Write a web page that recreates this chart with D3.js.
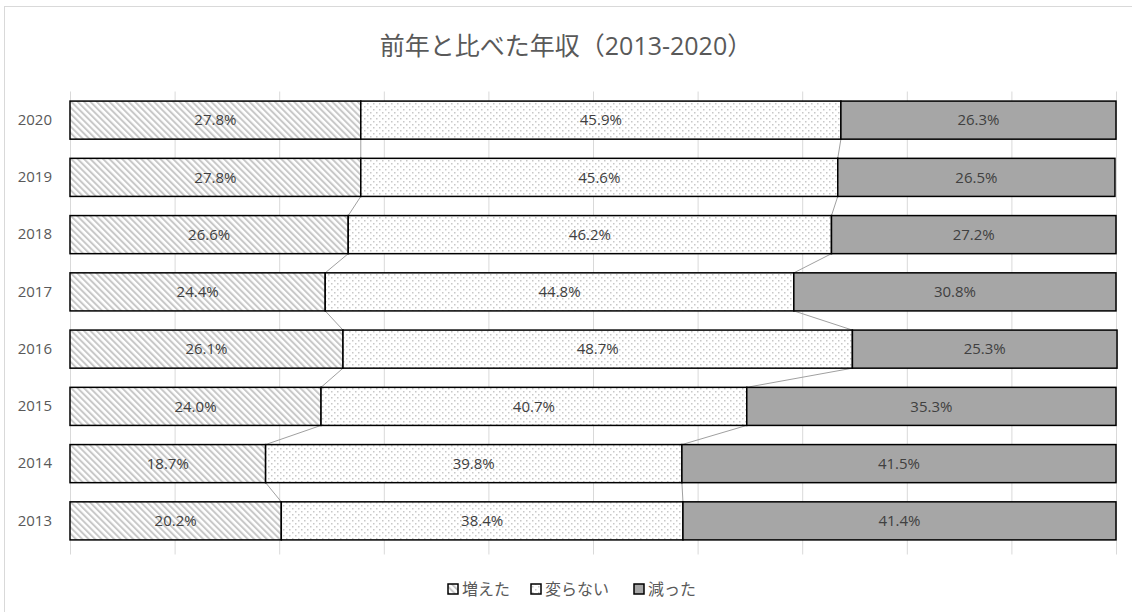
<!DOCTYPE html>
<html>
<head>
<meta charset="utf-8">
<script src="https://cdn.jsdelivr.net/npm/d3@7"></script>
<style>
  body { margin: 0; background: #fff; }
  text { font-family: "Open Sans", "Noto Sans CJK JP", sans-serif; }
</style>
</head>
<body>
<div id="chart"></div>
<script>
// data (percent)
const years = ["2013", "2014", "2015", "2016", "2017", "2018", "2019", "2020"];
const seriesNames = ["増えた", "変らない", "減った"];
const increased = [20.2, 18.7, 24.0, 26.1, 24.4, 26.6, 27.8, 27.8];
const unchanged = [38.4, 39.8, 40.7, 48.7, 44.8, 46.2, 45.6, 45.9];
const decreased = [41.4, 41.5, 35.3, 25.3, 30.8, 27.2, 26.5, 26.3];
const xTicks = [0, 10, 20, 30, 40, 50, 60, 70, 80, 90, 100];
const title = "前年と比べた年収（2013-2020）";

const width = 1132;
const height = 612;
const margin = { top: 91.5, right: 16, bottom: 62.5, left: 70 };

const svg = d3.select("#chart")
    .append("svg")
    .attr("width", width)
    .attr("height", height);

// patterns for the three series
const defs = svg.append("defs");
const hatch = defs.append("pattern")
    .attr("id", "hatch")
    .attr("patternUnits", "userSpaceOnUse")
    .attr("width", 4.5)
    .attr("height", 4.5)
    .attr("patternTransform", "rotate(-45)");
hatch.append("rect").attr("width", 4.5).attr("height", 4.5).attr("fill", "#fff");
hatch.append("rect").attr("x", 0).attr("width", 2).attr("height", 4.5).attr("fill", "#c8c8c8");

const dots = defs.append("pattern")
    .attr("id", "dots")
    .attr("patternUnits", "userSpaceOnUse")
    .attr("width", 6)
    .attr("height", 6);
dots.append("rect").attr("width", 6).attr("height", 6).attr("fill", "#fff");
dots.append("rect").attr("x", 1).attr("y", 1).attr("width", 1.5).attr("height", 1.5).attr("fill", "#c8c8c8");
dots.append("rect").attr("x", 4).attr("y", 4).attr("width", 1.5).attr("height", 1.5).attr("fill", "#c8c8c8");

const fills = ["url(#hatch)", "url(#dots)", "#a6a6a6"];

// chart border
svg.append("rect")
    .attr("x", 4.5)
    .attr("y", 6.5)
    .attr("width", width + 10)
    .attr("height", height + 10)
    .attr("fill", "none")
    .attr("stroke", "#d9d9d9");

// title
svg.append("text")
    .attr("x", 566)
    .attr("y", 55)
    .attr("text-anchor", "middle")
    .attr("font-size", 25)
    .attr("fill", "#595959")
    .text(title);

const x = d3.scaleLinear()
    .domain([0, 100])
    .range([margin.left, width - margin.right]);

const y = d3.scaleBand()
    .domain(years.slice().reverse())
    .range([margin.top, height - margin.bottom])
    .paddingInner(0.335)
    .paddingOuter(0.1675);

// gridlines with tick marks below the plot
const plotH = height - margin.top - margin.bottom;
svg.append("g")
    .attr("transform", `translate(0, ${height - margin.bottom})`)
    .call(d3.axisBottom(x).tickValues(xTicks).tickSizeOuter(0).tickFormat(""))
    .call(g => g.select(".domain").remove())
    .call(g => g.selectAll(".tick line").attr("stroke", "#d9d9d9").attr("y1", -plotH).attr("y2", 5));

// year labels
svg.append("g")
    .attr("transform", `translate(${margin.left}, 0)`)
    .call(d3.axisLeft(y).tickSize(0).tickPadding(18))
    .call(g => g.select(".domain").remove())
    .call(g => g.selectAll("text").attr("font-size", 15).attr("fill", "#595959"));

// stack
const rows = years.map((yr, i) => ({ year: yr, s0: increased[i], s1: unchanged[i], s2: decreased[i] }));
const stacked = d3.stack().keys(["s0", "s1", "s2"])(rows);

// series lines between consecutive bars
const ordered = years.slice().reverse();
const lineG = svg.append("g");
for (let k = 0; k < 2; k++) {
    for (let j = 0; j < ordered.length - 1; j++) {
        const upper = years.indexOf(ordered[j]);
        const lower = years.indexOf(ordered[j + 1]);
        lineG.append("line")
            .attr("x1", x(stacked[k][upper][1]))
            .attr("y1", y(ordered[j]) + y.bandwidth())
            .attr("x2", x(stacked[k][lower][1]))
            .attr("y2", y(ordered[j + 1]))
            .attr("stroke", "#a0a0a0")
            .attr("stroke-width", 1);
    }
}

// bars
const layer = svg.selectAll(".layer")
    .data(stacked)
    .enter()
    .append("g")
    .attr("class", "layer")
    .attr("fill", (d, i) => fills[i]);

layer.selectAll("rect")
    .data(d => d)
    .enter()
    .append("rect")
    .attr("x", d => x(d[0]))
    .attr("y", d => y(d.data.year))
    .attr("width", d => x(d[1]) - x(d[0]))
    .attr("height", y.bandwidth())
    .attr("stroke", "#000")
    .attr("stroke-width", 1.5);

// value labels
layer.selectAll("text")
    .data(d => d)
    .enter()
    .append("text")
    .attr("x", d => (x(d[0]) + x(d[1])) / 2)
    .attr("y", d => y(d.data.year) + y.bandwidth() / 2)
    .attr("dy", "0.35em")
    .attr("text-anchor", "middle")
    .attr("font-size", 15)
    .attr("fill", "#404040")
    .text(d => (d[1] - d[0]).toFixed(1) + "%");

// legend
const legendX = [448, 531, 634];
const legend = svg.append("g");
seriesNames.forEach((name, i) => {
    legend.append("rect")
        .attr("x", legendX[i])
        .attr("y", 584)
        .attr("width", 10)
        .attr("height", 10)
        .attr("fill", fills[i])
        .attr("stroke", "#000")
        .attr("stroke-width", 1.5);
    legend.append("text")
        .attr("x", legendX[i] + 14)
        .attr("y", 595)
        .attr("font-size", 16)
        .attr("fill", "#595959")
        .text(name);
});
</script>
</body>
</html>
